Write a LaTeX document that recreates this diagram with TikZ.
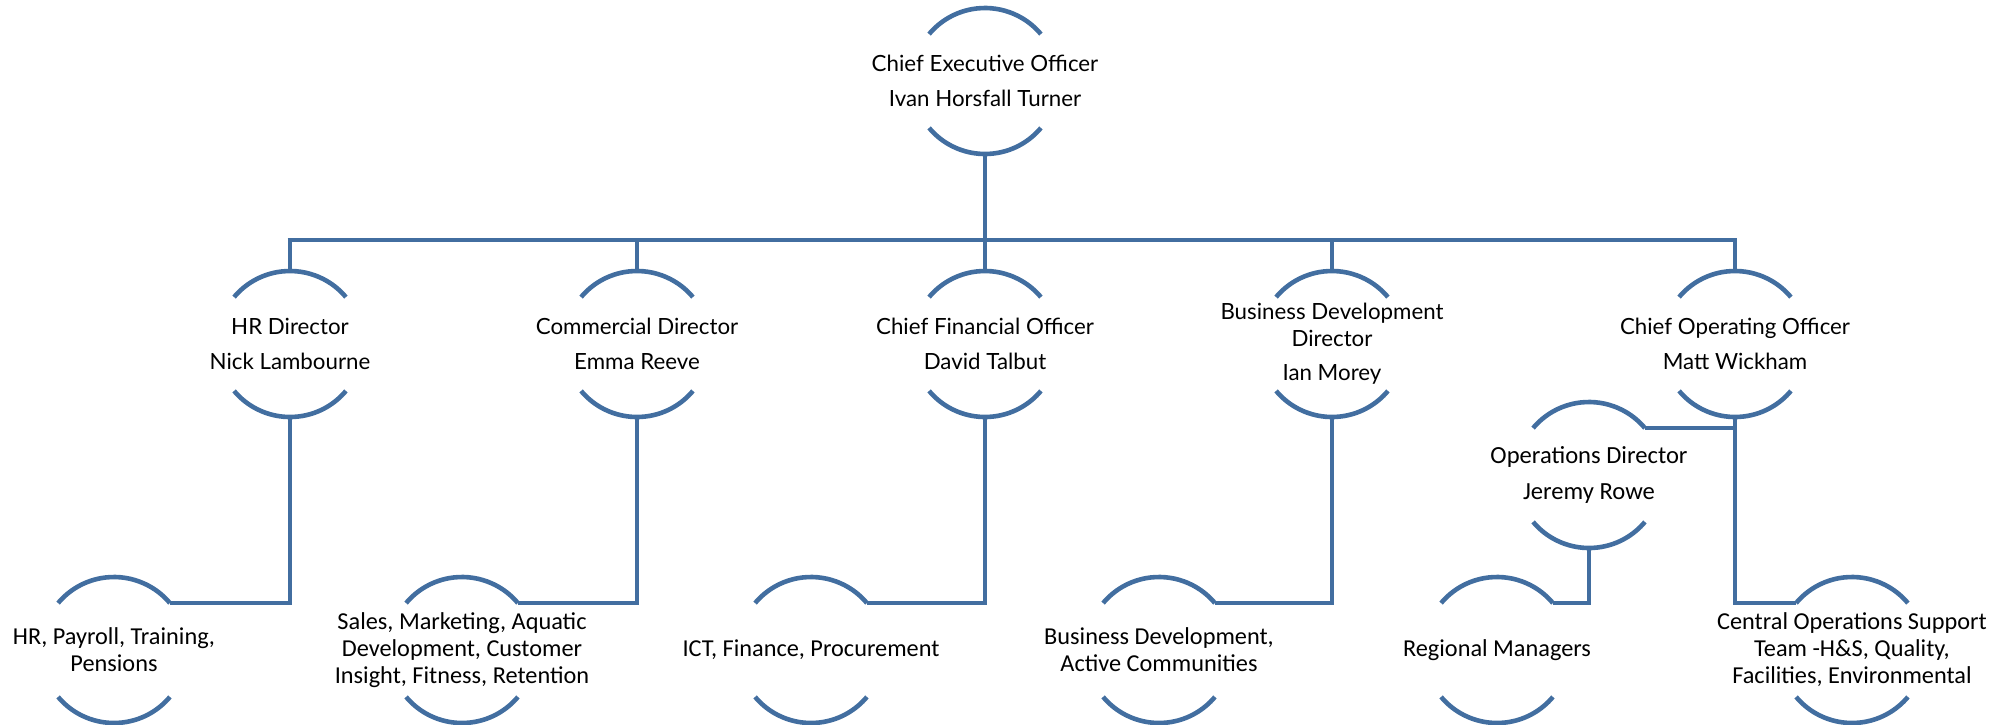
\documentclass[tikz,border=0pt]{standalone}
\usepackage{fontspec}
\setmainfont{Carlito}
\newfontfamily\headfont{Lato}
\begin{document}
\begin{tikzpicture}[x=1pt,y=1pt,
  arcline/.style={draw=orgblue,line width=4.6pt},
  link/.style={draw=orgblue,line width=4.6pt},
  headnode/.style={align=center,inner sep=0pt,font=\headfont\fontsize{22.3}{35}\selectfont},
  unitnode/.style={align=center,inner sep=0pt,font=\fontsize{24.3}{27}\selectfont},
  opsnode/.style={align=center,inner sep=0pt,font=\fontsize{24.6}{36}\selectfont}]
\definecolor{orgblue}{RGB}{66,110,160}
\useasboundingbox (0,0) rectangle (2011,-724);

% two arcs (top and bottom) of a circle of radius 73pt around a node
\newcommand\arcpair[1]{%
  \draw[arcline] ([shift={(40:73pt)}]#1.center) arc[start angle=40,end angle=140,radius=73pt];
  \draw[arcline] ([shift={(220:73pt)}]#1.center) arc[start angle=220,end angle=320,radius=73pt];}

% top level
\node[headnode] (ceo) at (985,-81) {Chief Executive Officer\\Ivan Horsfall Turner};

% directors
\node[headnode] (hrd) at (290,-344) {HR Director\\Nick Lambourne};
\node[headnode] (com) at (637,-344) {Commercial Director\\Emma Reeve};
\node[headnode] (cfo) at (985,-344) {Chief Financial Officer\\David Talbut};
\node[headnode,font=\headfont\fontsize{22.3}{27}\selectfont] (bdd) at (1332,-344) {Business Development\\Director\\[7pt]Ian Morey};
\node[headnode] (coo) at (1735,-344) {Chief Operating Officer\\Matt Wickham};

% operations director
\node[opsnode] (ops) at (1589,-475) {Operations Director\\Jeremy Rowe};

% teams
\node[unitnode] (hru) at (114,-650) {HR, Payroll, Training,\\Pensions};
\node[unitnode] (sal) at (462,-650) {Sales, Marketing, Aquatic\\Development, Customer\\Insight, Fitness, Retention};
\node[unitnode] (ict) at (811,-650) {ICT, Finance, Procurement};
\node[unitnode] (bdu) at (1159,-650) {Business Development,\\Active Communities};
\node[unitnode] (reg) at (1497,-650) {Regional Managers};
\node[unitnode] (cen) at (1852,-650) {Central Operations Support\\Team -H\&S, Quality,\\Facilities, Environmental};

% arcs
\arcpair{ceo}
\foreach \n in {hrd,com,cfo,bdd,coo,ops,hru,sal,ict,bdu,reg,cen}{\arcpair{\n}}

% arc end points used by the connectors
\coordinate (opsR) at ([shift={(40:73pt)}]ops.center);

% bus below the chief executive
\coordinate (busL) at (290,-240);
\coordinate (busR) at (1735,-240);
\draw[link] ([xshift=-2.3pt]busL) -- ([xshift=2.3pt]busR);
\draw[link] ([yshift=-73pt]ceo.center) -- (ceo.center |- busL);
\foreach \n in {hrd,com,cfo,bdd,coo}{
  \draw[link] ([yshift=73pt]\n.center) -- (\n.center |- busL);}

% directors to teams
\draw[link] ([yshift=-73pt]hrd.center) |- ([shift={(40:73pt)}]hru.center);
\draw[link] ([yshift=-73pt]com.center) |- ([shift={(40:73pt)}]sal.center);
\draw[link] ([yshift=-73pt]cfo.center) |- ([shift={(40:73pt)}]ict.center);
\draw[link] ([yshift=-73pt]bdd.center) |- ([shift={(40:73pt)}]bdu.center);
\draw[link] ([yshift=-73pt]coo.center) |- ([shift={(140:73pt)}]cen.center);
\draw[link] (opsR) -- (opsR -| coo.center);
\draw[link] ([yshift=-73pt]ops.center) |- ([shift={(40:73pt)}]reg.center);
\end{tikzpicture}
\end{document}
